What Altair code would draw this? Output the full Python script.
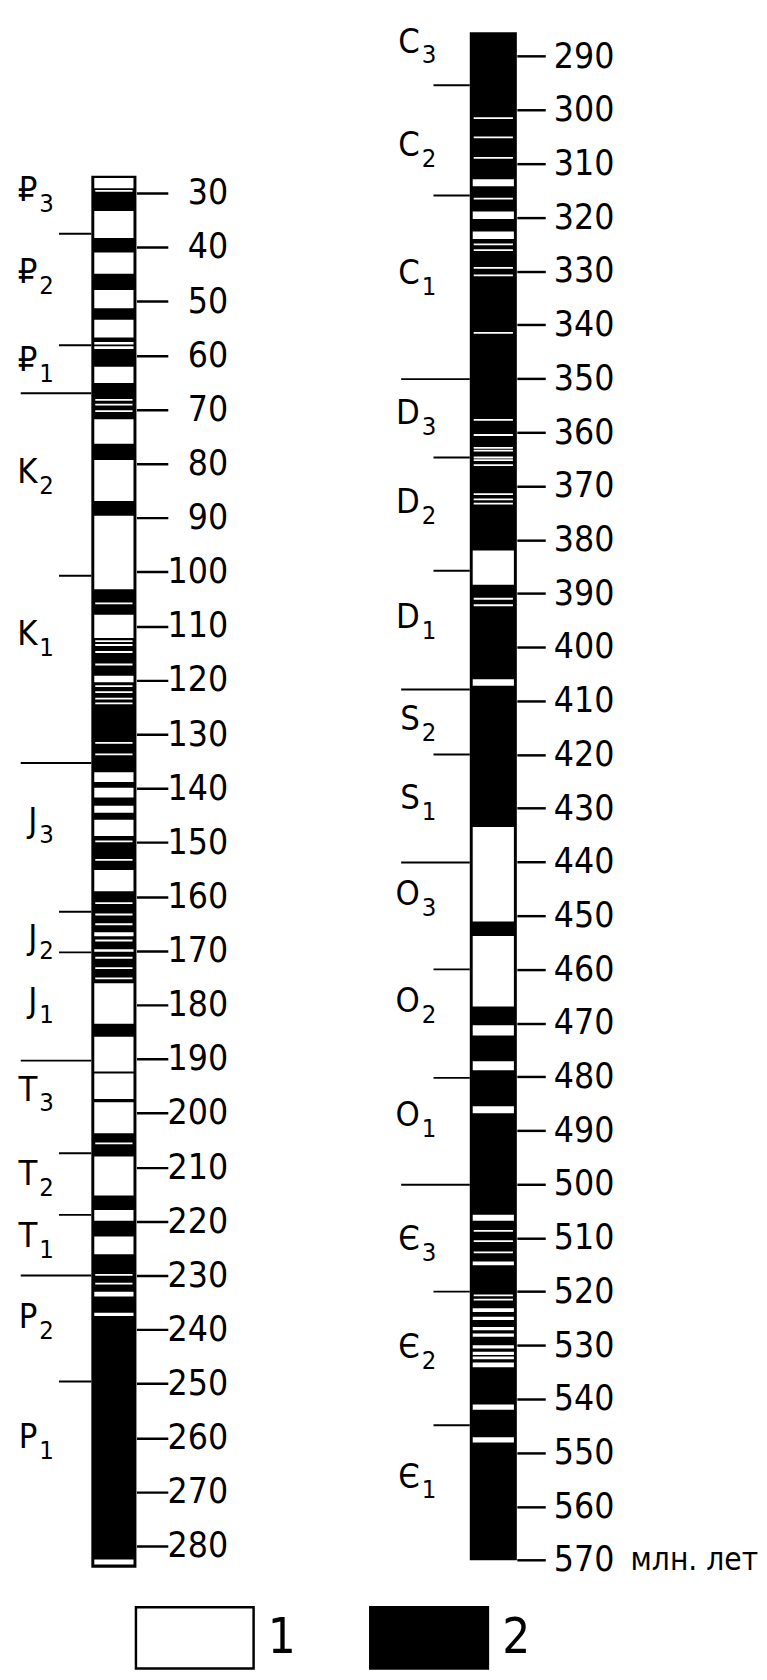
import altair as alt
import pandas as pd

# ---------------- data (ages in million years) ----------------
# left column
left_bar = [26.8, 284.0]
left_white_start = [27.2, 33.3, 41.0, 47.9, 53.4, 57.5, 58.3, 62.1, 71.8, 79.3, 89.6, 107.9,
                    119.2, 137.0, 139.9, 143.2, 145.8, 155.1, 166.6, 169.7, 176.0, 185.9,
                    192.7, 198.0, 208.0, 217.9, 222.8, 233.0, 236.9, 282.5]
left_white_end = [29.1, 38.3, 44.9, 51.3, 56.7, 58.0, 58.8, 65.1, 76.3, 86.9, 103.2, 112.2,
                  120.4, 138.8, 141.7, 144.5, 148.8, 159.0, 167.3, 170.2, 183.5, 192.3,
                  197.4, 203.7, 215.2, 219.9, 226.1, 233.9, 237.5, 283.4]
left_thin = [29.6, 68.2, 69.1, 70.3, 105.8, 112.8, 113.5, 114.8, 117.1, 121.1, 122.2, 123.4,
             124.3, 131.6, 133.7, 149.8, 153.2, 161.2, 163.3, 165.1, 168.1, 171.3, 173.2,
             175.1, 205.6, 229.9, 231.5]
left_period_bounds = [67.0, 135.3, 190.3, 230.0]
left_epoch_bounds = [37.5, 58.1, 100.7, 162.8, 170.3, 207.4, 218.8, 249.6]
left_letters = ["₽", "₽", "₽", "K", "K", "J", "J", "J", "T", "T", "T", "P", "P"]
left_subs = ["3", "2", "1", "2", "1", "3", "2", "1", "3", "2", "1", "2", "1"]
left_label_age = [29.5, 44.6, 60.9, 81.6, 111.6, 146.1, 167.6, 179.3, 195.7, 211.3, 222.8,
                  237.8, 259.9]
left_ticks = [30, 40, 50, 60, 70, 80, 90, 100, 110, 120, 130, 140, 150, 160, 170, 180, 190,
              200, 210, 220, 230, 240, 250, 260, 270, 280]

# right column
right_bar = [285.5, 570.0]
right_white_start = [312.9, 318.9, 322.6, 382.0, 406.0, 433.5, 453.8, 470.4, 477.1, 485.5,
                     505.7, 514.4, 523.1, 524.7, 526.6, 527.8, 530.0, 531.2, 532.1, 533.2,
                     541.0, 547.1]
right_white_end = [314.2, 320.3, 324.0, 388.4, 407.2, 451.1, 466.9, 472.3, 478.8, 486.8,
                   506.8, 515.1, 523.8, 525.3, 527.2, 528.4, 530.6, 531.8, 532.6, 534.1,
                   542.0, 548.1]
right_thin = [301.5, 305.1, 308.9, 316.5, 325.0, 326.1, 329.4, 330.8, 341.5, 357.7, 360.5,
              362.9, 363.4, 364.7, 365.2, 366.1, 371.5, 372.5, 373.3, 391.0, 392.2, 508.7,
              510.6, 512.7, 520.7, 521.5]
right_period_bounds = [350.1, 407.9, 440.1, 500.1]
right_epoch_bounds = [295.4, 315.9, 364.7, 385.8, 420.0, 460.0, 480.2, 520.0, 544.9]
right_letters = ["C", "C", "C", "D", "D", "D", "S", "S", "O", "O", "O", "Є", "Є", "Є"]
right_subs = ["3", "2", "1", "3", "2", "1", "2", "1", "3", "2", "1", "3", "2", "1"]
right_label_age = [287.3, 306.5, 330.4, 356.5, 373.0, 394.5, 413.4, 428.2, 446.0, 466.0,
                   487.2, 510.3, 530.4, 554.5]
right_ticks = [290, 300, 310, 320, 330, 340, 350, 360, 370, 380, 390, 400, 410, 420, 430,
               440, 450, 460, 470, 480, 490, 500, 510, 520, 530, 540, 550, 560, 570]
unit_label = ["млн. лет"]
unit_age = [570]

legend_classes = ["1", "2"]
legend_colors = ["white", "black"]

# ---------------- styling ----------------
FONT = "Liberation Sans Narrow, Arial Narrow, DejaVu Sans Condensed, sans-serif"

LEG = alt.Legend(
    title=None, orient="none", legendX=129, legendY=1580, direction="horizontal",
    symbolType="M-1,-0.52H1V0.52H-1Z", symbolSize=14400, symbolStrokeColor="black",
    symbolStrokeWidth=2.5, labelFont=FONT, labelFontSize=50, labelColor="black",
    labelOffset=13, columnPadding=70, padding=0,
)
FILL = alt.Fill("pol:N", scale=alt.Scale(domain=legend_classes, range=legend_colors), legend=LEG)


def panel(bar, ws, we, thin, per_b, ep_b, letters, subs, lab_age, ticks, domain, width,
          bx0, bx1, long_x, short_x, let_x, sub_x, tick_size, label_pad, extra=None):
    ysc = alt.Scale(domain=domain, reverse=True, nice=False, zero=False)
    ax = alt.Axis(values=ticks, orient="right", domain=False, grid=False, tickSize=tick_size,
                  tickWidth=2.5, tickColor="black", labelFont=FONT, labelFontSize=36,
                  labelColor="black", labelAlign="right", labelBaseline="middle",
                  labelPadding=label_pad)

    def Y(f):
        return alt.Y(f, scale=ysc, axis=ax, title=None)

    bar_df = pd.DataFrame({"start": [bar[0]], "end": [bar[1]], "pol": ["2"]})
    w_df = pd.DataFrame({"start": ws, "end": we, "pol": "1"})
    t_df = pd.DataFrame({"age": thin, "pol": "1"})
    pb_df = pd.DataFrame({"age": per_b})
    eb_df = pd.DataFrame({"age": ep_b})
    lab_df = pd.DataFrame({"age": lab_age, "letter": letters, "sub": subs})

    layers = [
        alt.Chart(bar_df).mark_rect().encode(
            y=Y("start:Q"), y2="end:Q", x=alt.value(bx0), x2=alt.value(bx1), fill=FILL),
        alt.Chart(w_df).mark_rect().encode(
            y=Y("start:Q"), y2="end:Q", x=alt.value(bx0 + 3), x2=alt.value(bx1 - 3), fill=FILL),
        alt.Chart(t_df).transform_calculate(s="datum.age - 0.17", e="datum.age + 0.17")
        .mark_rect().encode(
            y=Y("s:Q"), y2="e:Q", x=alt.value(bx0 + 4), x2=alt.value(bx1 - 4), fill=FILL),
        alt.Chart(pb_df).mark_rule(color="black", strokeWidth=2).encode(
            y=Y("age:Q"), x=alt.value(long_x), x2=alt.value(bx0)),
        alt.Chart(eb_df).mark_rule(color="black", strokeWidth=2).encode(
            y=Y("age:Q"), x=alt.value(short_x), x2=alt.value(bx0)),
        alt.Chart(lab_df).mark_text(align="right", baseline="middle", font=FONT, fontSize=35,
                                    color="black").encode(
            y=Y("age:Q"), x=alt.value(let_x), text="letter:N"),
        alt.Chart(lab_df).mark_text(align="left", baseline="middle", font=FONT, fontSize=26,
                                    dy=14, color="black").encode(
            y=Y("age:Q"), x=alt.value(sub_x), text="sub:N"),
    ]
    if extra is not None:
        layers.append(extra(Y))
    return alt.layer(*layers).properties(width=width, height=1600)


def unit_layer(Y):
    df = pd.DataFrame({"age": unit_age, "txt": unit_label})
    return alt.Chart(df).mark_text(align="left", baseline="middle", font=FONT, fontSize=32,
                                   color="black").encode(
        y=Y("age:Q"), x=alt.value(243), text="txt:N")


left = panel(left_bar, left_white_start, left_white_end, left_thin, left_period_bounds,
             left_epoch_bounds, left_letters, left_subs, left_label_age, left_ticks,
             [-0.43, 289.42], 131, 85, 131, 13, 52, 30, 32, 32, 61)
right = panel(right_bar, right_white_start, right_white_end, right_thin, right_period_bounds,
              right_epoch_bounds, right_letters, right_subs, right_label_age, right_ticks,
              [284.80, 576.87], 127, 79, 127, 9, 42, 28, 30, 29, 70, extra=unit_layer)

chart = alt.hconcat(left, right, spacing=261, bounds="flush").resolve_scale(
    y="independent", fill="shared"
).properties(padding=0).configure_view(strokeWidth=0)

chart.save("out.html", embed_options={"renderer": "svg", "actions": False})
